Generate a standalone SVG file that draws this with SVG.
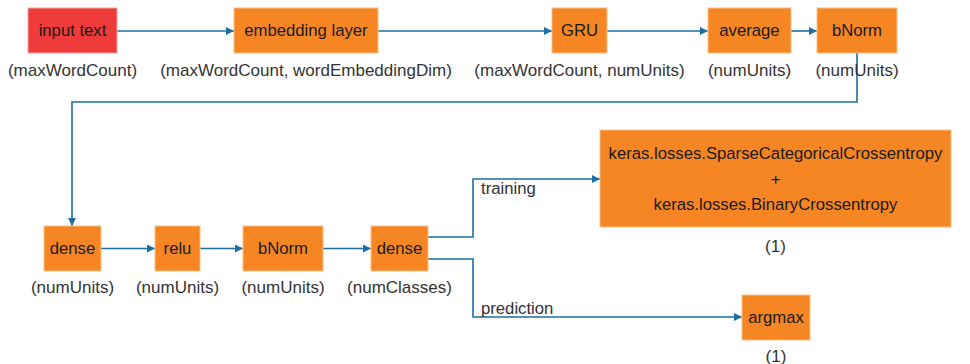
<svg xmlns="http://www.w3.org/2000/svg" width="970" height="364" viewBox="0 0 970 364">
<defs>
<marker id="arr" viewBox="0 0 10 10" refX="10" refY="5" markerWidth="8" markerHeight="8" markerUnits="userSpaceOnUse" orient="auto">
<path d="M0,0 L10,5 L0,10 Z" fill="#1B6FA3"/>
</marker>
<style>
.box{fill:#F58623;stroke:#FBBF86;stroke-width:1}
.red{fill:#EF3B3A;stroke:#F8A5A5;stroke-width:1}
.t{font-family:"Liberation Sans",Arial,sans-serif;font-size:16.7px;fill:#1a1a1a;text-anchor:middle;dominant-baseline:central}
.lbl{font-family:"Liberation Sans",Arial,sans-serif;font-size:17px;fill:#333;text-anchor:middle;dominant-baseline:central}
.el{font-family:"Liberation Sans",Arial,sans-serif;font-size:16.7px;fill:#333;dominant-baseline:central}
.c{fill:none;stroke:#1B6FA3;stroke-width:1.6;marker-end:url(#arr)}
</style>
</defs>
<rect width="970" height="364" fill="#ffffff"/>
<g id="connectors">
<path class="c" d="M117,31 H234"/>
<path class="c" d="M378,31 H552"/>
<path class="c" d="M607,31 H708"/>
<path class="c" d="M791,31 H817"/>
<path class="c" d="M857,53 V102 H72 V226"/>
<path class="c" d="M101,248.5 H155"/>
<path class="c" d="M200,248.5 H243"/>
<path class="c" d="M323,248.5 H371"/>
<path class="c" d="M428,237 H473 V179 H600"/>
<path class="c" d="M428,259 H473 V317 H742"/>
<text class="el" x="481" y="188">training</text>
<text class="el" x="481" y="308">prediction</text>
</g>
<g id="input">
<rect class="red" x="28" y="8" width="89" height="45"/>
<text class="t" x="72.5" y="30.5">input text</text>
<text class="lbl" x="72.5" y="70">(maxWordCount)</text>
</g>
<g id="embedding">
<rect class="box" x="234" y="8" width="144" height="45"/>
<text class="t" x="306" y="30.5">embedding layer</text>
<text class="lbl" x="306" y="70">(maxWordCount, wordEmbeddingDim)</text>
</g>
<g id="gru">
<rect class="box" x="552" y="8" width="55" height="45"/>
<text class="t" x="579.5" y="30.5">GRU</text>
<text class="lbl" x="579.5" y="70">(maxWordCount, numUnits)</text>
</g>
<g id="average">
<rect class="box" x="708" y="8" width="83" height="45"/>
<text class="t" x="749.5" y="30.5">average</text>
<text class="lbl" x="749.5" y="70">(numUnits)</text>
</g>
<g id="bnorm1">
<rect class="box" x="817" y="8" width="80" height="45"/>
<text class="t" x="857" y="30.5">bNorm</text>
<text class="lbl" x="857" y="70">(numUnits)</text>
</g>
<g id="dense1">
<rect class="box" x="44" y="226" width="57" height="45"/>
<text class="t" x="72.5" y="248.5">dense</text>
<text class="lbl" x="72.5" y="287">(numUnits)</text>
</g>
<g id="relu">
<rect class="box" x="155" y="226" width="45" height="45"/>
<text class="t" x="177.5" y="248.5">relu</text>
<text class="lbl" x="177.5" y="287">(numUnits)</text>
</g>
<g id="bnorm2">
<rect class="box" x="243" y="226" width="80" height="45"/>
<text class="t" x="283" y="248.5">bNorm</text>
<text class="lbl" x="283" y="287">(numUnits)</text>
</g>
<g id="dense2">
<rect class="box" x="371" y="226" width="57" height="45"/>
<text class="t" x="399.5" y="248.5">dense</text>
<text class="lbl" x="399.5" y="287">(numClasses)</text>
</g>
<g id="loss">
<rect class="box" x="600" y="130" width="351" height="97"/>
<text class="t" x="775.5" y="153.5">keras.losses.SparseCategoricalCrossentropy</text>
<text class="t" x="775.5" y="179">+</text>
<text class="t" x="775.5" y="204">keras.losses.BinaryCrossentropy</text>
<text class="lbl" x="775.5" y="246">(1)</text>
</g>
<g id="argmax">
<rect class="box" x="742" y="295" width="68" height="45"/>
<text class="t" x="776" y="317.5">argmax</text>
<text class="lbl" x="776" y="356">(1)</text>
</g>
</svg>
